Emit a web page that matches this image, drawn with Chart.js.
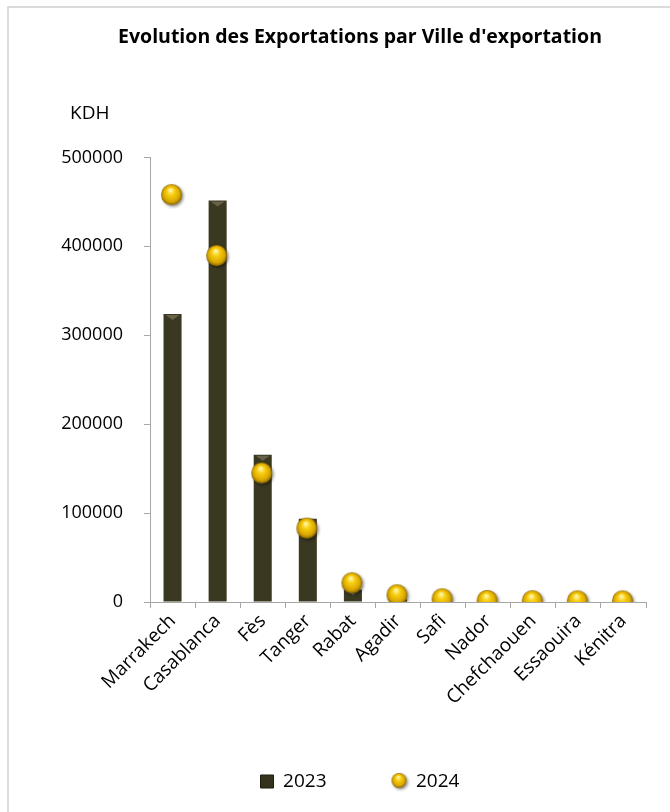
<!DOCTYPE html>
<html lang="fr">
<head>
<meta charset="UTF-8">
<title>Evolution des Exportations par Ville d'exportation</title>
<script src="https://cdn.jsdelivr.net/npm/chart.js"></script>
<style>
  body { margin: 0; background: #fff; }
  #wrap { position: relative; width: 670px; height: 812px; }
</style>
</head>
<body>
<div id="wrap"><canvas id="chart" width="670" height="812"></canvas></div>
<script>
  // données
  const villes = ["Marrakech", "Casablanca", "Fès", "Tanger", "Rabat", "Agadir", "Safi", "Nador", "Chefchaouen", "Essaouira", "Kénitra"];
  const exp2023 = [324000, 451500, 165500, 93500, 14000, 3000, 1500, 800, 400, 300, 200];
  const exp2024 = [457000, 388500, 144000, 82000, 20500, 7000, 2500, 600, 300, 200, 100];
  const yTicks = [0, 100000, 200000, 300000, 400000, 500000];

  const font = "'Open Sans', sans-serif";

  // boule dorée pour les points
  function makeBall(r) {
    const c = document.createElement("canvas");
    const s = Math.ceil(r * 2 + 6);
    c.width = s; c.height = s;
    const g = c.getContext("2d");
    const cx = s / 2 - 1, cy = s / 2 - 1;
    g.shadowColor = "rgba(0,0,0,0.45)";
    g.shadowBlur = 3;
    g.shadowOffsetX = 1.5;
    g.shadowOffsetY = 1.5;
    const grad = g.createRadialGradient(cx - r * 0.1, cy - r * 0.45, r * 0.1, cx, cy, r);
    grad.addColorStop(0, "#fff3a0");
    grad.addColorStop(0.3, "#f8cf10");
    grad.addColorStop(0.75, "#dba800");
    grad.addColorStop(1, "#8c6a00");
    g.fillStyle = grad;
    g.beginPath();
    g.arc(cx, cy, r, 0, Math.PI * 2);
    g.fill();
    return c;
  }
  const ball = makeBall(10.5);
  const ballSmall = makeBall(7.5);

  function barFill(context) {
    const chart = context.chart;
    const el = context.element;
    if (!el || !chart.chartArea || !Number.isFinite(el.x) || !Number.isFinite(el.width)) return "#3b3822";
    const w = el.width;
    const x0 = el.x - w / 2;
    const grad = chart.ctx.createLinearGradient(x0, 0, x0 + w, 0);
    grad.addColorStop(0, "#1f1e0d");
    grad.addColorStop(0.18, "#3d3923");
    grad.addColorStop(0.5, "#4a4530");
    grad.addColorStop(0.82, "#3d3923");
    grad.addColorStop(1, "#1b1a0b");
    return grad;
  }

  const decor = {
    id: "decor",
    beforeDraw(chart) {
      const ctx = chart.ctx;
      ctx.save();
      ctx.strokeStyle = "#d0d0d0";
      ctx.lineWidth = 1.5;
      ctx.strokeRect(8, 7, 700, 850);
      ctx.restore();
    },
    // petit biseau en haut des barres
    afterDatasetDraw(chart, args) {
      const meta = args.meta;
      if (meta.type !== "bar") return;
      const ctx = chart.ctx;
      ctx.save();
      ctx.fillStyle = "rgba(120,114,85,0.75)";
      meta.data.forEach(bar => {
        const h = bar.base - bar.y;
        if (h < 8) return;
        const w = bar.width;
        ctx.beginPath();
        ctx.moveTo(bar.x - w / 2 + 2, bar.y + 1);
        ctx.lineTo(bar.x + w / 2 - 2, bar.y + 1);
        ctx.lineTo(bar.x, bar.y + 6);
        ctx.closePath();
        ctx.fill();
      });
      ctx.restore();
    },
    afterDraw(chart) {
      const ctx = chart.ctx;
      ctx.save();
      ctx.fillStyle = "#000";
      ctx.font = "19px " + font;
      ctx.textBaseline = "middle";
      ctx.fillText("KDH", 70, 114);
      ctx.restore();
    }
  };

  new Chart(document.getElementById("chart"), {
    data: {
      labels: villes,
      datasets: [
        {
          type: "line",
          label: "2024",
          data: exp2024,
          showLine: false,
          pointStyle: ball,
          pointRadius: 11,
          pointHoverRadius: 11,
          order: 0
        },
        {
          type: "bar",
          label: "2023",
          data: exp2023,
          backgroundColor: barFill,
          borderWidth: 0,
          barPercentage: 0.8,
          categoryPercentage: 0.5,
          grouped: false,
          order: 1
        }
      ]
    },
    options: {
      responsive: false,
      animation: false,
      layout: { padding: { left: 50, right: 0, top: 0, bottom: 11 } },
      plugins: {
        title: {
          display: true,
          text: "Evolution des Exportations par Ville d'exportation",
          color: "#000",
          font: { family: font, size: 19.5, weight: "bold" },
          padding: { top: 26, bottom: 108 }
        },
        legend: {
          position: "bottom",
          labels: {
            color: "#000",
            font: { family: font, size: 19 },
            boxWidth: 13,
            boxHeight: 13,
            padding: 10,
            usePointStyle: true,
            generateLabels(chart) {
              return [
                { text: "2023\u2003\u2003\u2003", pointStyle: "rect", fillStyle: "#35321e", strokeStyle: "#1e1d0d", lineWidth: 1, datasetIndex: 1, fontColor: "#000" },
                { text: "2024", pointStyle: ballSmall, datasetIndex: 0, fontColor: "#000" }
              ];
            }
          }
        },
        tooltip: { enabled: false }
      },
      scales: {
        x: {
          afterFit(axis) { axis.height = 160; },
          grid: { display: true, drawOnChartArea: false, color: "#a6a6a6", tickLength: 6, offset: true },
          border: { color: "#a6a6a6" },
          ticks: { color: "#000", font: { family: font, size: 19 }, maxRotation: 45, minRotation: 45, padding: 2 }
        },
        y: {
          min: 0,
          max: 500000,
          afterFit(axis) { axis.width = 100; },
          afterBuildTicks(axis) { axis.ticks = yTicks.map(v => ({ value: v })); },
          grid: { display: true, drawOnChartArea: false, color: "#a6a6a6", tickLength: 6 },
          border: { color: "#a6a6a6" },
          ticks: { color: "#000", font: { family: font, size: 18 }, padding: 21, callback: v => String(v) }
        },
        // marge droite de la zone de tracé
        marge: {
          type: "linear",
          position: "right",
          afterFit(axis) { axis.width = 24; },
          grid: { display: false },
          border: { display: false },
          ticks: { display: false }
        }
      }
    },
    plugins: [decor]
  });
</script>
</body>
</html>
